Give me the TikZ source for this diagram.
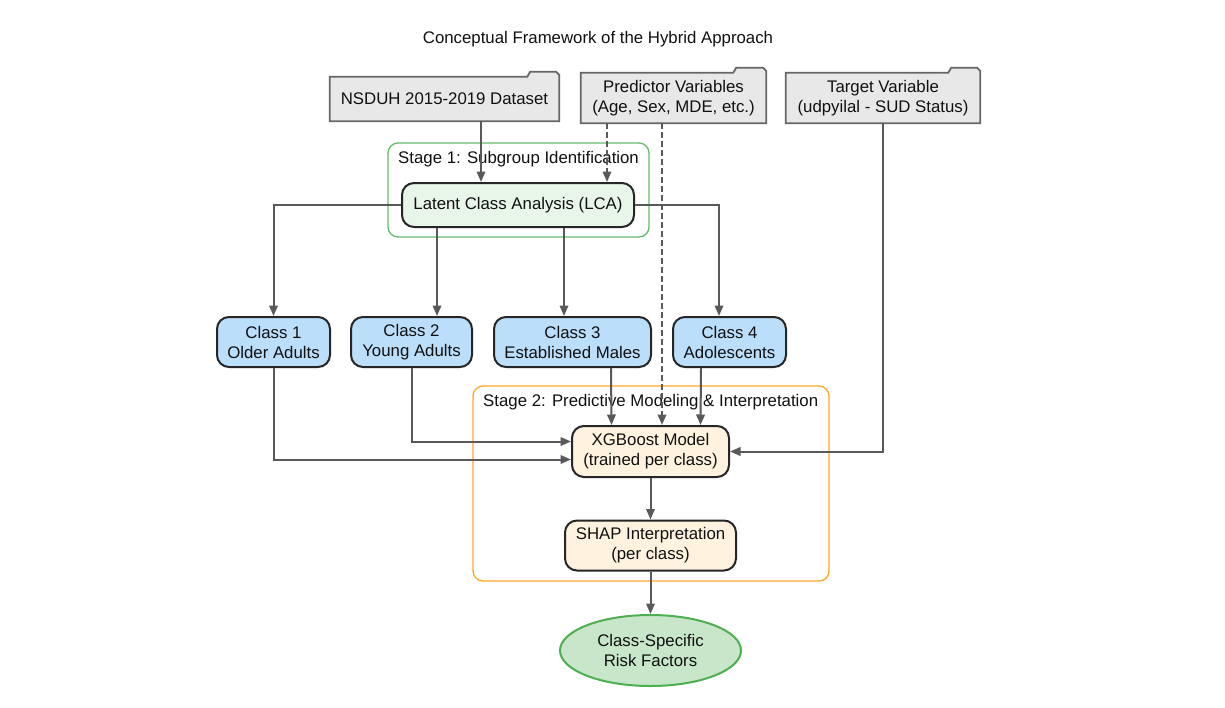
\documentclass[tikz,border=0pt]{standalone}
\usepackage{fontspec}
\setmainfont{Liberation Sans}
\usetikzlibrary{arrows.meta,calc,backgrounds,shapes.geometric}
\definecolor{edgec}{HTML}{595959}
\definecolor{folderfill}{HTML}{E8E8E8}
\definecolor{folderline}{HTML}{666666}
\definecolor{lcafill}{HTML}{E8F5E9}
\definecolor{classfill}{HTML}{BBDEFB}
\definecolor{modelfill}{HTML}{FFF3E0}
\definecolor{riskfill}{HTML}{C8E6C9}
\definecolor{riskline}{HTML}{4CAF50}
\definecolor{stageone}{HTML}{66BB6A}
\definecolor{stagetwo}{HTML}{FFA726}
\definecolor{textc}{HTML}{111111}
\tikzset{
  txt/.style={font=\fontsize{16.8}{20}\selectfont, text=textc, align=center},
  folderbox/.style={txt, inner sep=0pt},
  folderst/.style={fill=folderfill, draw=folderline, line width=1.8pt},
  procbox/.style={txt, draw=black!85, line width=2pt, rounded corners=12pt, inner sep=0pt},
  lcabox/.style={procbox, fill=lcafill},
  classbox/.style={procbox, fill=classfill},
  modelbox/.style={procbox, fill=modelfill},
  riskbox/.style={txt, ellipse, draw=riskline, fill=riskfill, line width=2pt, inner sep=0pt},
  stagebox/.style={rounded corners=10pt, line width=1.3pt},
  stagelabel/.style={txt, anchor=west, inner sep=0pt},
  edge/.style={draw=edgec, line width=2pt, -{Triangle[length=10.5pt,width=8.5pt]}},
  dedge/.style={edge, dash pattern=on 6pt off 3pt}
}
\newcommand\folderpath[2]{%
  \filldraw[folderst] (#1.south west) -- (#1.north west)
    -- ($(#1.north east)+(-#2,0)$) -- ($(#1.north east)+(-#2+3,-5)$)
    -- ($(#1.north east)+(-3,-5)$) -- ($(#1.north east)+(0,-2)$)
    -- (#1.south east) -- cycle;}
\begin{document}
\begin{tikzpicture}[x=1pt,y=-1pt]
\useasboundingbox (0,0) rectangle (1225,707);

\node[txt] (title) at (598,39.5) {Conceptual Framework of the Hybrid Approach};

% stage boxes
\draw[stagebox, draw=stageone] (388,143) rectangle (649,237);
\node[stagelabel] (s1) at (398,159.5) {Stage 1: Subgroup Identification};
\draw[stagebox, draw=stagetwo] (473,386) rectangle (829,581);
\node[stagelabel] (s2) at (483,402.5) {Stage 2: Predictive Modeling \& Interpretation};

% folders
\node[folderbox, minimum width=229pt, minimum height=44pt] (nsduh) at (444.5,99) {NSDUH 2015-2019 Dataset};
\node[folderbox, minimum width=185pt, minimum height=50pt] (pred) at (673.5,98) {Predictor Variables\\(Age, Sex, MDE, etc.)};
\node[folderbox, minimum width=194pt, minimum height=50pt] (target) at (883,98) {Target Variable\\(udpyilal - SUD Status)};
\begin{scope}[on background layer]
  \fill[white] (0,0) rectangle (1225,707);
  \folderpath{nsduh}{32}
  \folderpath{pred}{33}
  \folderpath{target}{32}
\end{scope}

% process nodes
\node[lcabox, minimum width=232pt, minimum height=44pt] (lca) at (518,205) {Latent Class Analysis (LCA)};
\node[classbox, minimum width=113pt, minimum height=50pt] (c1) at (273.5,342) {Class 1\\Older Adults};
\node[classbox, minimum width=121pt, minimum height=50pt] (c2) at (411.5,342) {Class 2\\Young Adults};
\node[classbox, minimum width=157pt, minimum height=50pt] (c3) at (572.5,342) {Class 3\\Established Males};
\node[classbox, minimum width=113pt, minimum height=50pt] (c4) at (729.5,342) {Class 4\\Adolescents};
\node[modelbox, minimum width=157pt, minimum height=51pt] (xgb) at (650.5,451.5) {XGBoost Model\\(trained per class)};
\node[modelbox, minimum width=171pt, minimum height=50pt] (shap) at (650.5,545.5) {SHAP Interpretation\\(per class)};
\node[riskbox, minimum width=181pt, minimum height=71pt] (risk) at (650.5,650.5) {Class-Specific\\Risk Factors};

% edges
\draw[edge] ([xshift=36.5pt]nsduh.south) -- ([xshift=-37pt]lca.north);
\draw[dedge] ([xshift=-66.5pt]pred.south) -- ([xshift=89pt]lca.north);
\draw[dedge] ([xshift=-11.5pt]pred.south) -- ([xshift=11.5pt]xgb.north);
\draw[edge] (target.south) |- (xgb.east);

\draw[edge] (lca.west) -| (c1.north);
\draw[edge] ([xshift=-81pt]lca.south) -- ([xshift=25.5pt]c2.north);
\draw[edge] ([xshift=46pt]lca.south) -- ([xshift=-8.5pt]c3.north);
\draw[edge] (lca.east) -| ([xshift=-10.5pt]c4.north);

\draw[edge] (c1.south) |- ([yshift=-8pt]xgb.west);
\draw[edge] (c2.south) |- ([yshift=10pt]xgb.west);
\draw[edge] ([xshift=38.5pt]c3.south) -- ([xshift=-39pt]xgb.north);
\draw[edge] ([xshift=-28.5pt]c4.south) -- ([xshift=50pt]xgb.north);

\draw[edge] (xgb.south) -- (shap.north);
\draw[edge] (shap.south) -- (risk.north);
\end{tikzpicture}
\end{document}
